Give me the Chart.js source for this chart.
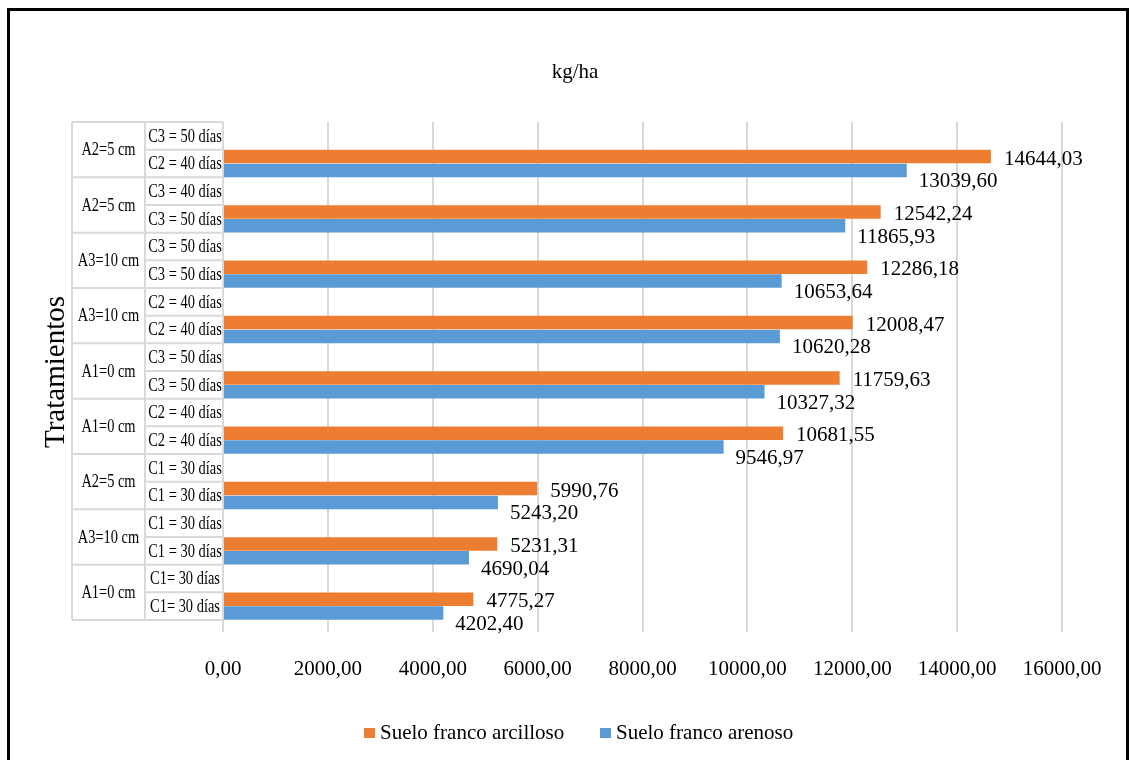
<!DOCTYPE html>
<html>
<head>
<meta charset="utf-8">
<script src="https://cdn.jsdelivr.net/npm/chart.js@4/dist/chart.umd.min.js"></script>
<style>
  html, body { margin: 0; padding: 0; background: #fff; }
  #wrap { width: 1131px; height: 760px; }
</style>
</head>
<body>
<div id="wrap"><canvas id="chart" width="1131" height="760"></canvas></div>
<script>
// treatment groups, top to bottom
var groups = ['A2=5 cm', 'A2=5 cm', 'A3=10 cm', 'A3=10 cm', 'A1=0 cm', 'A1=0 cm', 'A2=5 cm', 'A3=10 cm', 'A1=0 cm'];
var topSub = ['C3 = 50 días', 'C3 = 40 días', 'C3 = 50 días', 'C2 = 40 días', 'C3 = 50 días', 'C2 = 40 días', 'C1 = 30 días', 'C1 = 30 días', 'C1= 30 días'];
var bottomSub = ['C2 = 40 días', 'C3 = 50 días', 'C3 = 50 días', 'C2 = 40 días', 'C3 = 50 días', 'C2 = 40 días', 'C1 = 30 días', 'C1 = 30 días', 'C1= 30 días'];
var arcilloso = [14644.03, 12542.24, 12286.18, 12008.47, 11759.63, 10681.55, 5990.76, 5231.31, 4775.27];
var arenoso = [13039.60, 11865.93, 10653.64, 10620.28, 10327.32, 9546.97, 5243.20, 4690.04, 4202.40];
var seriesNames = ['Suelo franco arcilloso', 'Suelo franco arenoso'];
var xMax = 16000;
var xStep = 2000;

var ORANGE = '#ED7D31';
var BLUE = '#5B9BD5';
var GRID = '#d9d9d9';
var SERIF = '"Liberation Serif", "Times New Roman", serif';

// each group has two rows; only the lower one carries values
var labels = [], arcData = [], areData = [];
for (var i = 0; i < groups.length; i++) {
    labels.push([groups[i], topSub[i]]);
    arcData.push(null);
    areData.push(null);
    labels.push([groups[i], bottomSub[i]]);
    arcData.push(arcilloso[i]);
    areData.push(arenoso[i]);
}

function fmt(v) {
    return Number(v).toFixed(2).replace('.', ',');
}

// table on the left, titles, legend and value labels
var decorations = {
    id: 'decorations',
    beforeDraw: function (chart) {
        var ctx = chart.ctx;
        ctx.save();
        ctx.fillStyle = '#fff';
        ctx.fillRect(0, 0, chart.width, chart.height);
        ctx.strokeStyle = '#000';
        ctx.lineWidth = 3;
        ctx.beginPath();
        ctx.moveTo(8.5, chart.height + 5);
        ctx.lineTo(8.5, 9.5);
        ctx.lineTo(1127.5, 9.5);
        ctx.lineTo(1127.5, chart.height + 5);
        ctx.stroke();
        ctx.restore();
    },
    afterDraw: function (chart) {
        var ctx = chart.ctx;
        var area = chart.chartArea;
        var y = chart.scales.y;
        var n = labels.length;
        var rowH = (area.bottom - area.top) / n;
        var colA = 72, colB = 145, colC = area.left;

        ctx.save();
        ctx.strokeStyle = GRID;
        ctx.lineWidth = 2;
        ctx.beginPath();
        ctx.moveTo(colA, area.top); ctx.lineTo(colA, area.bottom);
        ctx.moveTo(colB, area.top); ctx.lineTo(colB, area.bottom);
        for (var r = 0; r <= n; r++) {
            var yy = y.getPixelForValue(r) - rowH / 2;
            if (r === n) yy = y.getPixelForValue(n - 1) + rowH / 2;
            ctx.moveTo(r % 2 === 0 ? colA : colB, yy);
            ctx.lineTo(colC, yy);
        }
        ctx.stroke();

        ctx.fillStyle = '#000';
        ctx.textAlign = 'center';
        ctx.textBaseline = 'middle';
        for (var g = 0; g < groups.length; g++) {
            var yTop = y.getPixelForValue(2 * g);
            var yBot = y.getPixelForValue(2 * g + 1);
            var yMid = (yTop + yBot) / 2;
            drawSqueezed(ctx, groups[g], (colA + colB) / 2, yMid + 1, '18px ' + SERIF, 0.8);
            drawSqueezed(ctx, topSub[g], (colB + colC) / 2 + 1, yTop + 1, '19px ' + SERIF, 0.76);
            drawSqueezed(ctx, bottomSub[g], (colB + colC) / 2 + 1, yBot + 1, '19px ' + SERIF, 0.76);
        }

        // value labels
        ctx.font = '21px ' + SERIF;
        ctx.textAlign = 'left';
        ctx.textBaseline = 'alphabetic';
        var metaA = chart.getDatasetMeta(0), metaB = chart.getDatasetMeta(1);
        for (var j = 0; j < n; j++) {
            if (arcData[j] !== null) {
                var ea = metaA.data[j];
                ctx.fillText(fmt(arcData[j]), ea.x + 13, ea.y + 8);
            }
            if (areData[j] !== null) {
                var eb = metaB.data[j];
                ctx.fillText(fmt(areData[j]), eb.x + 12, eb.y + 17);
            }
        }

        // chart title
        ctx.textAlign = 'center';
        ctx.fillText('kg/ha', 575, 78);

        // axis title
        ctx.save();
        ctx.translate(64, 372);
        ctx.rotate(-Math.PI / 2);
        ctx.font = '29px ' + SERIF;
        ctx.fillText('Tratamientos', 0, 0);
        ctx.restore();

        // legend
        ctx.font = '21px ' + SERIF;
        ctx.textAlign = 'left';
        var lx = [364, 600], colors = [ORANGE, BLUE];
        for (var k = 0; k < 2; k++) {
            ctx.fillStyle = colors[k];
            ctx.fillRect(lx[k], 728, 11, 10);
            ctx.fillStyle = '#000';
            ctx.fillText(seriesNames[k], lx[k] + 16, 739);
        }
        ctx.restore();
    }
};

function drawSqueezed(ctx, text, x, y, font, sx) {
    ctx.save();
    ctx.font = font;
    ctx.translate(x, y);
    ctx.scale(sx, 1);
    ctx.fillText(text, 0, 0);
    ctx.restore();
}

new Chart(document.getElementById('chart'), {
    type: 'bar',
    data: {
        labels: labels,
        datasets: [
            { label: seriesNames[0], data: arcData, backgroundColor: ORANGE, categoryPercentage: 1.0, barPercentage: 0.97 },
            { label: seriesNames[1], data: areData, backgroundColor: BLUE, categoryPercentage: 1.0, barPercentage: 0.97 }
        ]
    },
    options: {
        indexAxis: 'y',
        responsive: false,
        animation: false,
        devicePixelRatio: 1,
        layout: { padding: { left: 223, right: 69, top: 122, bottom: 0 } },
        plugins: {
            legend: { display: false },
            title: { display: false },
            tooltip: { enabled: false }
        },
        scales: {
            y: { display: false },
            x: {
                min: 0,
                max: xMax,
                ticks: {
                    stepSize: xStep,
                    color: '#000',
                    padding: 25,
                    font: { family: SERIF, size: 21 },
                    callback: function (v) { return fmt(v); }
                },
                grid: { color: GRID, lineWidth: 2, tickLength: 12, drawTicks: true },
                border: { display: false },
                afterFit: function (scale) { scale.height = 140; }
            }
        }
    },
    plugins: [decorations]
});
</script>
</body>
</html>
